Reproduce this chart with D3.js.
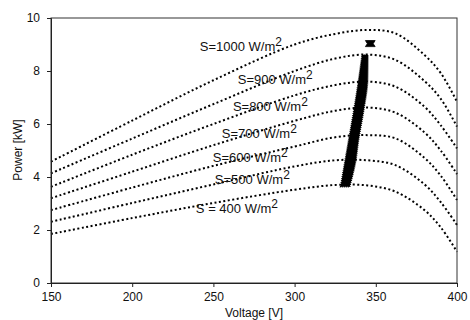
<!DOCTYPE html>
<meta charset="utf-8">
<style>
  body { margin: 0; background: #fff; }
  text { font-family: Arial, "Liberation Sans", sans-serif; }
</style>
<body>
<div id="chart"></div>
<script src="https://cdn.jsdelivr.net/npm/d3@7"></script>
<script>

// voltage grid the curves were read on (V)
var volts = [150, 200, 250, 300, 325, 345, 362, 380, 390, 400];

// power (kW) for each irradiance level
var p1000 = [4.58, 6.13, 7.65, 9.0, 9.4, 9.55, 9.42, 8.6, 7.92, 6.84];
var p900  = [4.14, 5.45, 6.75, 8.0, 8.47, 8.62, 8.42, 7.62, 6.95, 5.9];
var p800  = [3.63, 4.84, 6.0, 7.08, 7.47, 7.6, 7.41, 6.65, 5.95, 5.08];
var p700  = [3.2, 4.2, 5.2, 6.12, 6.5, 6.62, 6.43, 5.68, 5.0, 4.11];
var p600  = [2.75, 3.6, 4.42, 5.15, 5.5, 5.58, 5.46, 4.72, 4.05, 3.13];
var p500  = [2.31, 3.02, 3.72, 4.4, 4.63, 4.63, 4.45, 3.72, 3.05, 2.19];
var p400  = [1.85, 2.45, 3.02, 3.52, 3.7, 3.68, 3.45, 2.75, 2.1, 1.18];

var labels = ["S=1000 W/m", "S=900 W/m", "S=800 W/m", "S=700 W/m",
              "S=600 W/m", "S=500 W/m", "S = 400 W/m"];
// where each label starts (voltage, power of baseline)
var labelV = [241.6, 265, 262, 255.2, 249.6, 250.9, 239.2];
var labelP = [8.75, 7.51, 6.49, 5.47, 4.57, 3.74, 2.64];

// MPPT operating trajectory: power with left/right edge voltage
var trackP  = [3.63, 4.52, 5.40, 6.53, 7.66, 8.6];
var trackV0 = [328.3, 330.8, 333.3, 336.5, 339.4, 341.5];
var trackV1 = [333.9, 337.4, 339.4, 342.6, 345.0, 345.2];

// final settled point
var blobP  = [8.92, 9.03, 9.15];
var blobV0 = [343.6, 344.8, 343.6];
var blobV1 = [349.6, 348.4, 349.6];

var xTicks = [150, 200, 250, 300, 350, 400];
var yTicks = [0, 2, 4, 6, 8, 10];

var width = 470, height = 320;
var margin = {left: 51, right: 13, top: 18, bottom: 37};

var x = d3.scaleLinear().domain([150, 400]).range([margin.left, width - margin.right]);
var y = d3.scaleLinear().domain([0, 10]).range([height - margin.bottom, margin.top]);

var svg = d3.select("#chart").append("svg")
    .attr("width", width)
    .attr("height", height);

var series = [p1000, p900, p800, p700, p600, p500, p400];

var line = d3.line()
    .x(function(d, i) { return x(volts[i]); })
    .y(function(d) { return y(d); })
    .curve(d3.curveCatmullRom.alpha(0.5));

svg.selectAll("path.pv")
    .data(series)
  .enter().append("path")
    .attr("class", "pv")
    .attr("d", line)
    .attr("fill", "none")
    .attr("stroke", "#000")
    .attr("stroke-width", 2)
    .attr("stroke-dasharray", "2,2.5");

// trajectory band
var band = d3.area()
    .y(function(d) { return y(d); })
    .x0(function(d, i) { return x(trackV0[i]); })
    .x1(function(d, i) { return x(trackV1[i]); })
    .curve(d3.curveMonotoneY);

svg.append("path")
    .attr("d", band(trackP))
    .attr("fill", "#000")
    .attr("stroke", "#000")
    .attr("stroke-width", 1.5)
    .attr("stroke-dasharray", "1,1");

var blob = d3.area()
    .y(function(d) { return y(d); })
    .x0(function(d, i) { return x(blobV0[i]); })
    .x1(function(d, i) { return x(blobV1[i]); });

svg.append("path")
    .attr("d", blob(blobP))
    .attr("fill", "#000")
    .attr("stroke", "#000")
    .attr("stroke-width", 0.8);

// irradiance labels
var lab = svg.selectAll("text.lab")
    .data(labels)
  .enter().append("text")
    .attr("class", "lab")
    .attr("x", function(d, i) { return x(labelV[i]); })
    .attr("y", function(d, i) { return y(labelP[i]); })
    .attr("font-size", 13)
    .attr("fill", "#111");
lab.append("tspan").text(function(d) { return d; });
lab.append("tspan")
    .attr("dy", -5)
    .attr("font-size", 12)
    .text("2");

// frame
svg.append("rect")
    .attr("x", margin.left)
    .attr("y", margin.top)
    .attr("width", width - margin.left - margin.right)
    .attr("height", height - margin.top - margin.bottom)
    .attr("fill", "none")
    .attr("stroke", "#333")
    .attr("stroke-width", 1);

var xAxis = svg.append("g")
    .attr("transform", "translate(0," + (height - margin.bottom) + ")")
    .call(d3.axisBottom(x).tickValues(xTicks).tickSize(4).tickPadding(5));

var yAxis = svg.append("g")
    .attr("transform", "translate(" + margin.left + ",0)")
    .call(d3.axisLeft(y).tickValues(yTicks).tickSize(4).tickPadding(7));

svg.selectAll(".tick text")
    .attr("font-size", 12)
    .attr("font-family", "Arial, 'Liberation Sans', sans-serif")
    .attr("fill", "#111");
svg.selectAll(".domain").attr("stroke", "#222");
svg.selectAll(".tick line").attr("stroke", "#222");

svg.append("text")
    .attr("x", (margin.left + width - margin.right) / 2)
    .attr("y", 317)
    .attr("text-anchor", "middle")
    .attr("font-size", 12)
    .attr("fill", "#111")
    .text("Voltage [V]");

svg.append("text")
    .attr("transform", "translate(22,150) rotate(-90)")
    .attr("text-anchor", "middle")
    .attr("font-size", 12)
    .attr("fill", "#111")
    .text("Power [kW]");

</script>
</body>
